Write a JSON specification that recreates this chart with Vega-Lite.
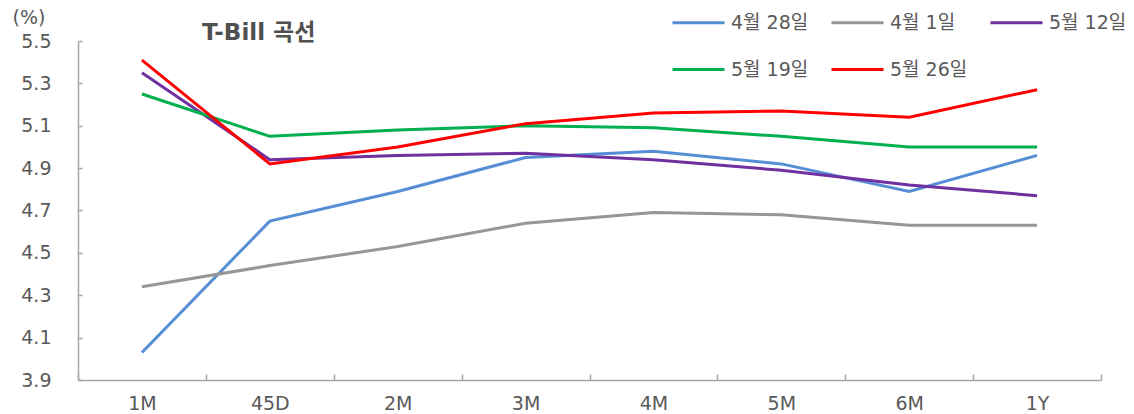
{
  "$schema": "https://vega.github.io/schema/vega-lite/v6.json",
  "width": 1023,
  "height": 339,
  "autosize": {"type": "none"},
  "padding": {"left": 78, "top": 41, "right": 33, "bottom": 34},
  "background": "white",
  "config": {
    "font": "DejaVu Sans, Noto Sans CJK KR",
    "view": {"stroke": null}
  },
  "title": {
    "text": "T-Bill 곡선",
    "anchor": "start",
    "frame": "group",
    "orient": "none",
    "dx": 124,
    "dy": -8,
    "baseline": "middle",
    "fontSize": 23,
    "fontWeight": "bold",
    "color": "#505050"
  },
  "data": {
    "values": [
      {"tenor": "1M", "series": "4월 28일", "rate": 4.03},
      {"tenor": "45D", "series": "4월 28일", "rate": 4.65},
      {"tenor": "2M", "series": "4월 28일", "rate": 4.79},
      {"tenor": "3M", "series": "4월 28일", "rate": 4.95},
      {"tenor": "4M", "series": "4월 28일", "rate": 4.98},
      {"tenor": "5M", "series": "4월 28일", "rate": 4.92},
      {"tenor": "6M", "series": "4월 28일", "rate": 4.79},
      {"tenor": "1Y", "series": "4월 28일", "rate": 4.96},

      {"tenor": "1M", "series": "4월 1일", "rate": 4.34},
      {"tenor": "45D", "series": "4월 1일", "rate": 4.44},
      {"tenor": "2M", "series": "4월 1일", "rate": 4.53},
      {"tenor": "3M", "series": "4월 1일", "rate": 4.64},
      {"tenor": "4M", "series": "4월 1일", "rate": 4.69},
      {"tenor": "5M", "series": "4월 1일", "rate": 4.68},
      {"tenor": "6M", "series": "4월 1일", "rate": 4.63},
      {"tenor": "1Y", "series": "4월 1일", "rate": 4.63},

      {"tenor": "1M", "series": "5월 12일", "rate": 5.35},
      {"tenor": "45D", "series": "5월 12일", "rate": 4.94},
      {"tenor": "2M", "series": "5월 12일", "rate": 4.96},
      {"tenor": "3M", "series": "5월 12일", "rate": 4.97},
      {"tenor": "4M", "series": "5월 12일", "rate": 4.94},
      {"tenor": "5M", "series": "5월 12일", "rate": 4.89},
      {"tenor": "6M", "series": "5월 12일", "rate": 4.82},
      {"tenor": "1Y", "series": "5월 12일", "rate": 4.77},

      {"tenor": "1M", "series": "5월 19일", "rate": 5.25},
      {"tenor": "45D", "series": "5월 19일", "rate": 5.05},
      {"tenor": "2M", "series": "5월 19일", "rate": 5.08},
      {"tenor": "3M", "series": "5월 19일", "rate": 5.10},
      {"tenor": "4M", "series": "5월 19일", "rate": 5.09},
      {"tenor": "5M", "series": "5월 19일", "rate": 5.05},
      {"tenor": "6M", "series": "5월 19일", "rate": 5.00},
      {"tenor": "1Y", "series": "5월 19일", "rate": 5.00},

      {"tenor": "1M", "series": "5월 26일", "rate": 5.41},
      {"tenor": "45D", "series": "5월 26일", "rate": 4.92},
      {"tenor": "2M", "series": "5월 26일", "rate": 5.00},
      {"tenor": "3M", "series": "5월 26일", "rate": 5.11},
      {"tenor": "4M", "series": "5월 26일", "rate": 5.16},
      {"tenor": "5M", "series": "5월 26일", "rate": 5.17},
      {"tenor": "6M", "series": "5월 26일", "rate": 5.14},
      {"tenor": "1Y", "series": "5월 26일", "rate": 5.27}
    ]
  },
  "mark": {"type": "line", "strokeCap": "butt", "strokeJoin": "miter"},
  "encoding": {
    "x": {
      "field": "tenor",
      "type": "ordinal",
      "sort": ["1M", "45D", "2M", "3M", "4M", "5M", "6M", "1Y"],
      "scale": {"type": "band", "paddingInner": 0, "paddingOuter": 0},
      "bandPosition": 0.5,
      "axis": {
        "title": null,
        "labelAngle": 0,
        "labelFontSize": 19,
        "labelColor": "#595959",
        "labelPadding": 20,
        "domainColor": "#a6a6a6",
        "domainWidth": 1.5,
        "tickColor": "#a6a6a6",
        "tickWidth": 1.5,
        "tickSize": -6,
        "tickBand": "extent",
        "grid": false
      }
    },
    "y": {
      "field": "rate",
      "type": "quantitative",
      "scale": {"domain": [3.9, 5.5], "nice": false, "zero": false},
      "axis": {
        "values": [3.9, 4.1, 4.3, 4.5, 4.7, 4.9, 5.1, 5.3, 5.5],
        "format": ".1f",
        "title": "(%)",
        "titleAngle": 0,
        "titleX": -66,
        "titleY": -24,
        "titleAlign": "left",
        "titleBaseline": "middle",
        "titleFontSize": 19,
        "titleFontWeight": "normal",
        "titleColor": "#595959",
        "labelFontSize": 19,
        "labelColor": "#595959",
        "labelPadding": 31,
        "domainColor": "#a6a6a6",
        "domainWidth": 1.5,
        "tickColor": "#a6a6a6",
        "tickWidth": 1.5,
        "tickSize": -4,
        "grid": false
      }
    },
    "color": {
      "field": "series",
      "type": "nominal",
      "sort": ["4월 28일", "4월 1일", "5월 12일", "5월 19일", "5월 26일"],
      "scale": {
        "domain": ["4월 28일", "4월 1일", "5월 12일", "5월 19일", "5월 26일"],
        "range": ["#558ed5", "#969696", "#7030a0", "#00b050", "#ff0000"]
      },
      "legend": {
        "title": null,
        "orient": "none",
        "legendX": 593,
        "legendY": -46,
        "direction": "horizontal",
        "columns": 3,
        "gridAlign": "each",
        "symbolType": "stroke",
        "symbolSize": 2704,
        "symbolStrokeWidth": 2,
        "labelFontSize": 19,
        "labelColor": "#595959",
        "labelOffset": 5,
        "columnPadding": 16,
        "rowPadding": 9
      }
    },
    "strokeWidth": {
      "field": "series",
      "type": "nominal",
      "scale": {
        "domain": ["4월 28일", "4월 1일", "5월 12일", "5월 19일", "5월 26일"],
        "range": [3, 3, 3, 2.3, 2]
      },
      "legend": null
    },
    "order": {"field": "series", "sort": "ascending"}
  }
}
